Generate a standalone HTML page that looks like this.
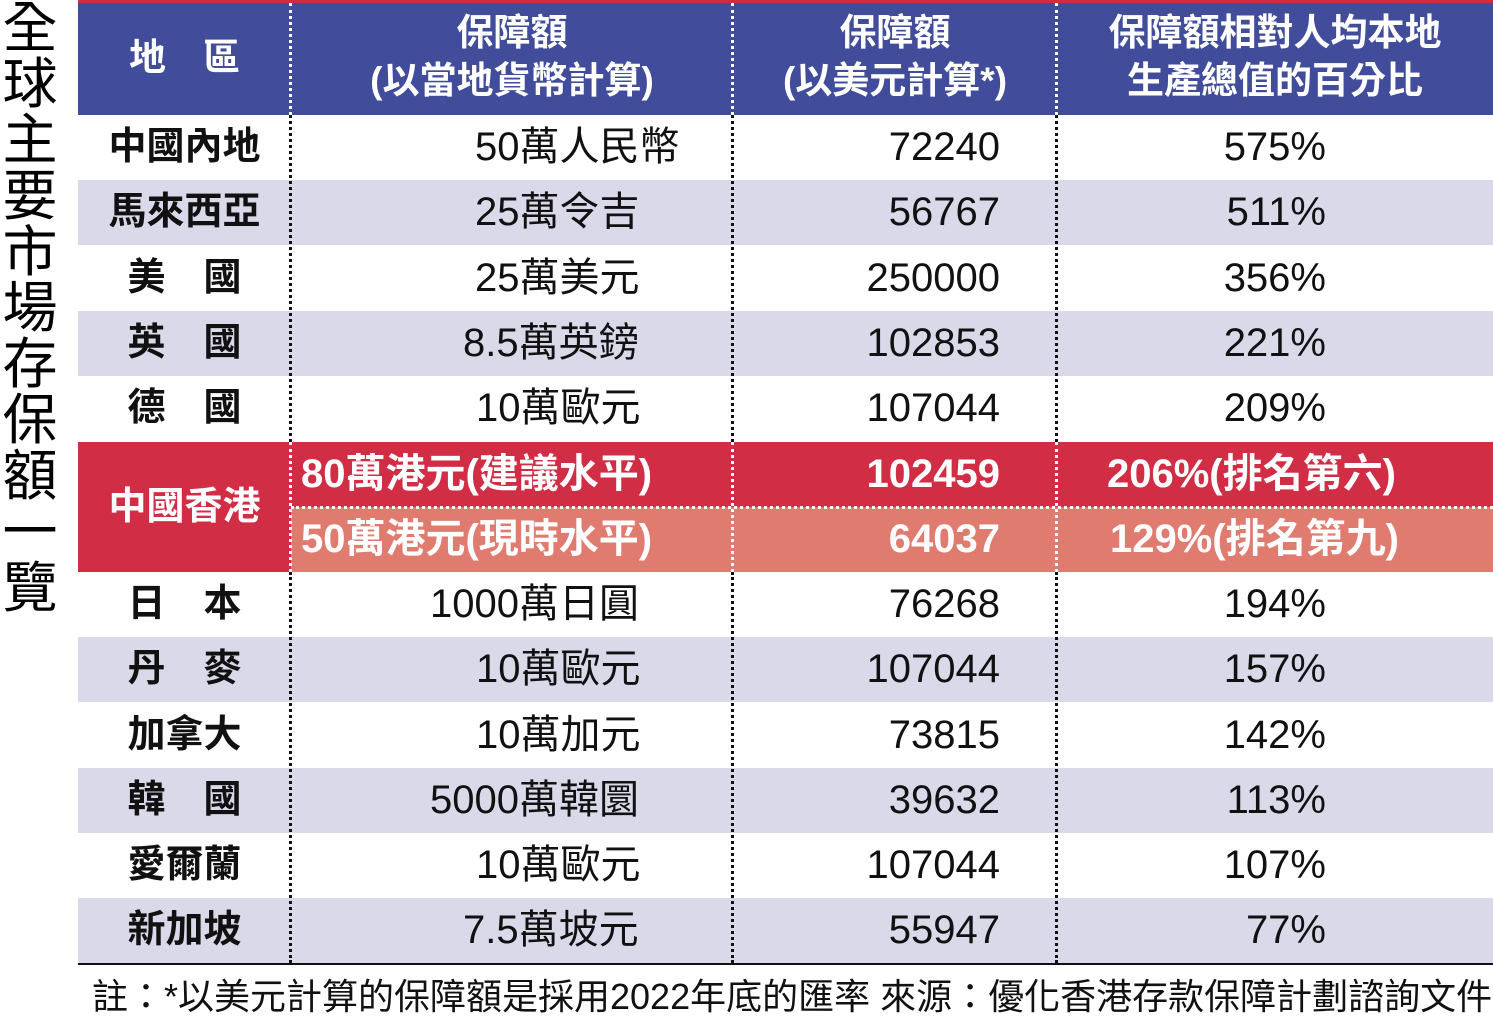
<!DOCTYPE html><html><head><meta charset="utf-8"><style>
body{margin:0;width:1493px;height:1029px;background:#fff;position:relative;overflow:hidden;font-family:"Liberation Sans","Noto Sans CJK TC",sans-serif;}
.a{position:absolute;white-space:nowrap}
.row{position:absolute;left:78px;width:1415px;height:65px}
.l{background:#d9d9ea}
.t{position:absolute;font-size:40px;line-height:65px;color:#111;white-space:nowrap}
.reg{left:0;width:213px;text-align:center;font-weight:bold;font-size:38px}
.usd{right:493px;text-align:right}
.pct{right:167px;text-align:right}
.v{position:absolute;top:3px;width:0;height:960px;border-left:3px dotted #111}
.hd{position:absolute;color:#fff;font-weight:bold;font-size:37px;text-align:center;line-height:48px}
</style></head><body>
<div class="a" style="left:0;top:0;width:60px;font-size:55px;line-height:56px;text-align:center;color:#000">全<br>球<br>主<br>要<br>市<br>場<br>存<br>保<br>額<br>一<br>覽</div>
<div class="a" style="left:78px;top:0;width:1415px;height:3px;background:#d42a45"></div>
<div class="a" style="left:78px;top:3px;width:1415px;height:112px;background:#414d9b"></div>
<div class="hd" style="left:78px;top:34px;width:213px">地　區</div>
<div class="hd" style="left:291px;top:9px;width:442px">保障額<br>(以當地貨幣計算)</div>
<div class="hd" style="left:733px;top:9px;width:324px">保障額<br>(以美元計算*)</div>
<div class="hd" style="left:1057px;top:9px;width:436px">保障額相對人均本地<br>生產總值的百分比</div>

<div class="row" style="top:115px"><span class="t reg">中國內地</span><span class="t" style="left:397px">50萬人民幣</span><span class="t usd">72240</span><span class="t pct">575%</span></div>
<div class="row l" style="top:180px"><span class="t reg">馬來西亞</span><span class="t" style="left:397px">25萬令吉</span><span class="t usd">56767</span><span class="t pct">511%</span></div>
<div class="row" style="top:246px"><span class="t reg">美　國</span><span class="t" style="left:397px">25萬美元</span><span class="t usd">250000</span><span class="t pct">356%</span></div>
<div class="row l" style="top:311px"><span class="t reg">英　國</span><span class="t" style="left:385px">8.5萬英鎊</span><span class="t usd">102853</span><span class="t pct">221%</span></div>
<div class="row" style="top:376px"><span class="t reg">德　國</span><span class="t" style="left:398px">10萬歐元</span><span class="t usd">107044</span><span class="t pct">209%</span></div>
<div class="row" style="top:442px;height:65px;background:#d12d45"></div>
<div class="row" style="top:507px;height:65px;background:#e07b70"></div>
<div class="a" style="left:78px;top:442px;width:213px;height:130px;background:#d12d45"></div>
<div class="a" style="left:78px;top:442px;width:213px;line-height:130px;text-align:center;color:#fff;font-weight:bold;font-size:38px">中國香港</div>
<div class="a" style="left:291px;top:506px;width:1202px;border-top:3px dotted #fff"></div>
<div class="a" style="left:301px;top:442px;line-height:65px;font-size:40px;font-weight:bold;color:#fff">80萬港元(建議水平)</div>
<div class="a" style="left:301px;top:507px;line-height:65px;font-size:40px;font-weight:bold;color:#fff">50萬港元(現時水平)</div>
<div class="a" style="right:493px;top:442px;line-height:65px;font-size:40px;font-weight:bold;color:#fff">102459</div>
<div class="a" style="right:493px;top:507px;line-height:65px;font-size:40px;font-weight:bold;color:#fff">64037</div>
<div class="a" style="left:1107px;top:442px;line-height:65px;font-size:40px;font-weight:bold;color:#fff">206%(排名第六)</div>
<div class="a" style="left:1110px;top:507px;line-height:65px;font-size:40px;font-weight:bold;color:#fff">129%(排名第九)</div>
<div class="row" style="top:572px"><span class="t reg">日　本</span><span class="t" style="left:352px">1000萬日圓</span><span class="t usd">76268</span><span class="t pct">194%</span></div>
<div class="row l" style="top:637px"><span class="t reg">丹　麥</span><span class="t" style="left:398px">10萬歐元</span><span class="t usd">107044</span><span class="t pct">157%</span></div>
<div class="row" style="top:703px"><span class="t reg">加拿大</span><span class="t" style="left:398px">10萬加元</span><span class="t usd">73815</span><span class="t pct">142%</span></div>
<div class="row l" style="top:768px"><span class="t reg">韓　國</span><span class="t" style="left:352px">5000萬韓圜</span><span class="t usd">39632</span><span class="t pct">113%</span></div>
<div class="row" style="top:833px"><span class="t reg">愛爾蘭</span><span class="t" style="left:398px">10萬歐元</span><span class="t usd">107044</span><span class="t pct">107%</span></div>
<div class="row l" style="top:898px"><span class="t reg">新加坡</span><span class="t" style="left:385px">7.5萬坡元</span><span class="t usd">55947</span><span class="t pct">77%</span></div>

<div class="v" style="left:289px;border-color:#fff;height:112px"></div>
<div class="v" style="left:731px;border-color:#fff;height:112px"></div>
<div class="v" style="left:1055px;border-color:#fff;height:112px"></div>
<div class="v" style="left:289px;top:115px;height:327px"></div>
<div class="v" style="left:731px;top:115px;height:327px"></div>
<div class="v" style="left:1055px;top:115px;height:327px"></div>
<div class="v" style="left:289px;top:442px;height:130px;border-color:#fff"></div>
<div class="v" style="left:731px;top:442px;height:130px;border-color:#fff"></div>
<div class="v" style="left:1055px;top:442px;height:130px;border-color:#fff"></div>
<div class="v" style="left:289px;top:572px;height:391px"></div>
<div class="v" style="left:731px;top:572px;height:391px"></div>
<div class="v" style="left:1055px;top:572px;height:391px"></div>
<div class="a" style="left:78px;top:963px;width:1415px;height:2px;background:#111"></div>
<div class="a" style="left:92px;top:972px;font-size:36px;line-height:50px;color:#111">註：*以美元計算的保障額是採用2022年底的匯率 來源：優化香港存款保障計劃諮詢文件</div>
</body></html>
